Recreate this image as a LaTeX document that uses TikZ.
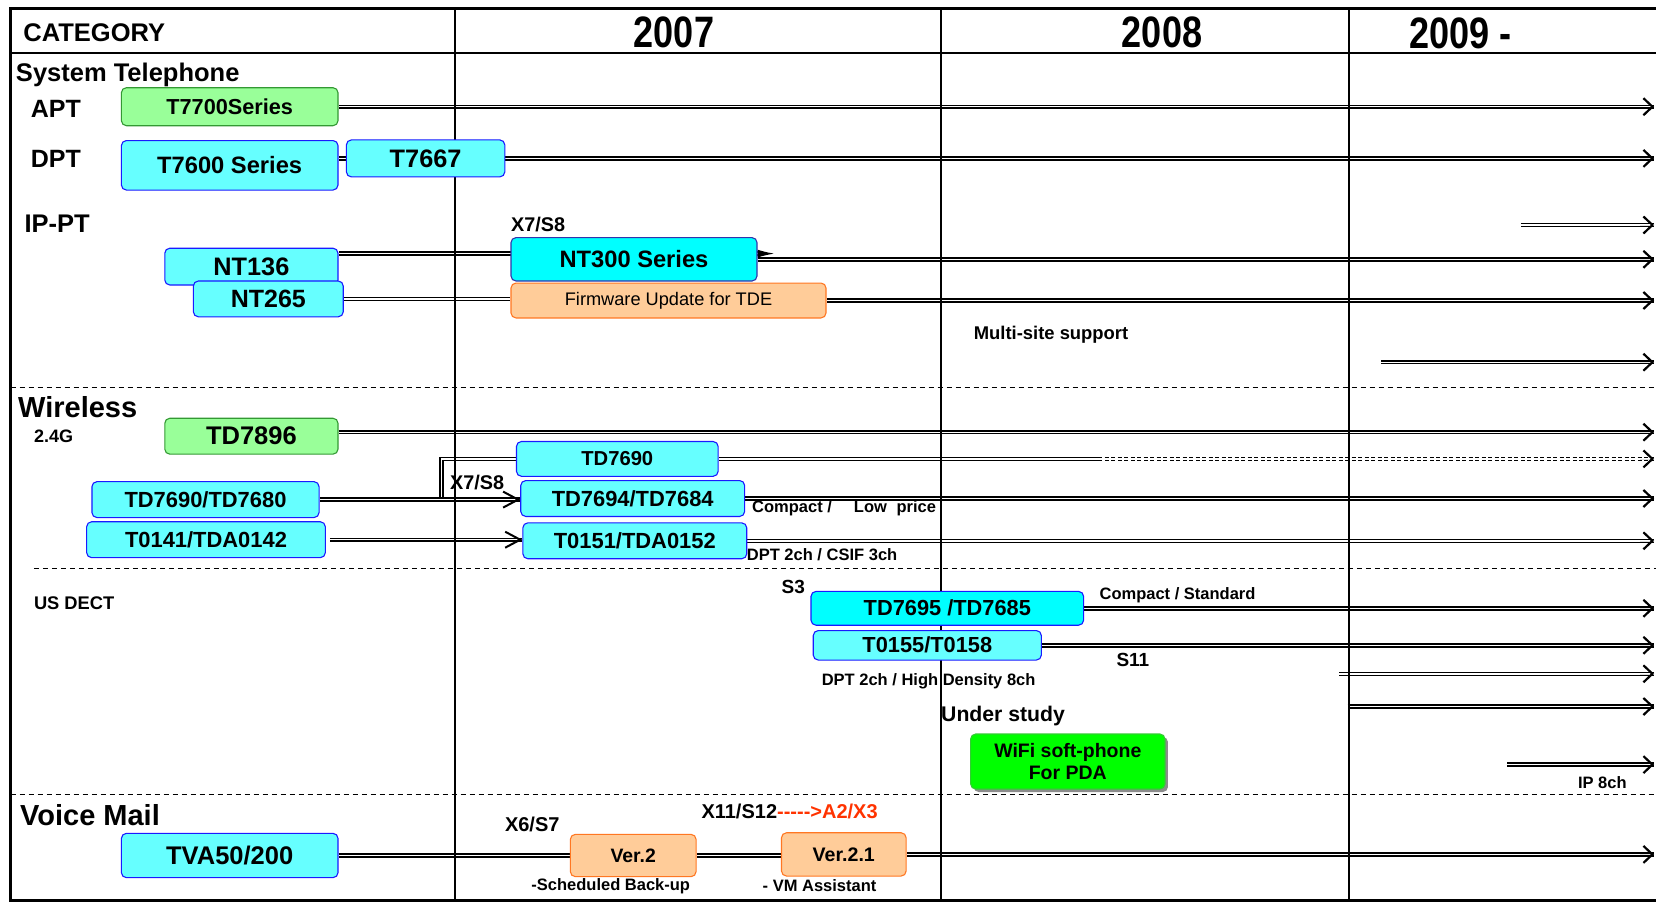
\documentclass[tikz,border=0pt]{standalone}
\usepackage{fontspec}
\setmainfont{Liberation Sans}
\newfontfamily\condfont[FakeStretch=0.82]{Liberation Sans}
\usetikzlibrary{arrows.meta,shadows}
\pgfdeclarelayer{bg}
\pgfsetlayers{bg,main}
\newcommand\fsz[1]{\fontsize{#1}{#1}\selectfont}
\definecolor{cyanL}{HTML}{66FFFF}
\definecolor{cyanF}{HTML}{00FFFF}
\definecolor{blueB}{HTML}{1A1AFF}
\definecolor{navyB}{HTML}{3333AA}
\definecolor{greenF}{HTML}{99FF99}
\definecolor{greenB}{HTML}{339933}
\definecolor{orangeF}{HTML}{FFCC99}
\definecolor{orangeB}{HTML}{FF7722}
\definecolor{limeF}{HTML}{00FF00}
\definecolor{limeB}{HTML}{33CC33}
\definecolor{redT}{HTML}{FF3300}
\tikzset{
  bx/.style={draw, rounded corners=5pt, line width=1.1pt, inner sep=0pt, align=center},
  cbox/.style={bx, fill=cyanL, draw=blueB},
  fbox/.style={bx, fill=cyanF, draw=navyB},
  gbox/.style={bx, fill=greenF, draw=greenB},
  obox/.style={bx, fill=orangeF, draw=orangeB},
  wbox/.style={bx, fill=limeF, draw=limeB, drop shadow={shadow xshift=3pt, shadow yshift=-3pt, fill=black!45, opacity=1}},
  dl/.style={double, line width=1.5pt, double distance=1.4pt},
  tipR/.style={line width=0.01pt, -{Straight Barb[length=9pt, width=17pt, line width=2.2pt]}},
  tipbig/.style={line width=0.01pt, -{Straight Barb[length=15pt, width=16pt, line width=2pt]}},
  lbl/.style={anchor=west, inner sep=0pt, text depth=0pt},
  grid/.style={line width=1.3pt},
  sep/.style={line width=1.2pt, dash pattern=on 5pt off 4pt},
}
% double connector from a point to the right edge, with its open tip
\newcommand\edgearrow[2][]{%
  \draw[dl,#1] (#2) -- (#2 -| R);
  \draw[tipR] ([xshift=-14pt]#2 -| R) -- (#2 -| R);}
\begin{document}
\begin{tikzpicture}[x=1pt, y=-1pt]
\useasboundingbox (0,0) rectangle (1656,902);
\coordinate (R) at (1654,0);

% ---------- header texts ----------
\node[lbl, font=\bfseries\fsz{25.5}] (cat) at (23.2,32.7) {CATEGORY};
\node[inner sep=0pt, font=\condfont\bfseries\fsz{44}] (y2007) at (674,32.7) {2007};
\node[inner sep=0pt, font=\condfont\bfseries\fsz{44}] (y2008) at (1162,32.7) {2008};
\node[lbl, font=\condfont\bfseries\fsz{44}] (y2009) at (1409,32.7) {2009 -};

% ---------- System Telephone ----------
\node[lbl, font=\bfseries\fsz{25.5}] (systel) at (15.8,71.8) {System Telephone};
\node[lbl, font=\bfseries\fsz{25}] (apt) at (30.6,108.8) {APT};
\node[lbl, font=\bfseries\fsz{25}] (dpt) at (30.6,158.4) {DPT};
\node[lbl, font=\bfseries\fsz{25.5}] (ippt) at (24.3,223.9) {IP-PT};

\node[gbox, minimum width=216.6pt, minimum height=38pt, font=\bfseries\fsz{21.7}] (t7700) at (229.7,106.7) {T7700Series};
\node[cbox, minimum width=216.6pt, minimum height=49.5pt, font=\bfseries\fsz{23.7}] (t7600) at (229.7,165.3) {T7600 Series};
\node[cbox, minimum width=158.4pt, minimum height=37pt, font=\bfseries\fsz{25.3}] (t7667) at (425.6,158.4) {T7667};

\node[lbl, font=\bfseries\fsz{19.8}] (x7a) at (511,224) {X7/S8};
\node[cbox, minimum width=173.2pt, minimum height=36.8pt, font=\bfseries\fsz{25.3}] (nt136) at (251.4,266.6) {NT136};
\node[cbox, minimum width=149.9pt, minimum height=35.8pt, font=\bfseries\fsz{25}] (nt265) at (268.3,298.9) {NT265};
\node[fbox, minimum width=246pt, minimum height=43.4pt, font=\bfseries\fsz{23.7}] (nt300) at (634,259.3) {NT300 Series};
\node[obox, minimum width=315pt, minimum height=34.9pt, font=\fsz{18.2}] (fw) at (668.5,300.5) {Firmware Update for TDE};
\node[lbl, font=\bfseries\fsz{18.4}] (multi) at (973.7,332.7) {Multi-site support};

% ---------- Wireless ----------
\node[lbl, font=\bfseries\fsz{29}] (wireless) at (18,406.6) {Wireless};
\node[lbl, font=\bfseries\fsz{18}] (g24) at (33.8,436.2) {2.4G};
\node[gbox, minimum width=173.2pt, minimum height=35.9pt, font=\bfseries\fsz{25.5}] (td7896) at (251.4,436.2) {TD7896};
\node[cbox, minimum width=201.7pt, minimum height=34.8pt, font=\bfseries\fsz{20.2}] (td7690) at (617.3,458.9) {TD7690};
\node[cbox, minimum width=227.1pt, minimum height=35.9pt, font=\bfseries\fsz{21.9}] (td7680) at (205.5,499.6) {TD7690/TD7680};
\node[cbox, minimum width=223.9pt, minimum height=35.9pt, font=\bfseries\fsz{21.9}] (td7694) at (632.7,498.5) {TD7694/TD7684};
\node[cbox, minimum width=238.7pt, minimum height=35.9pt, font=\bfseries\fsz{21.9}] (t0141) at (206,539.7) {T0141/TDA0142};
\node[cbox, minimum width=223.9pt, minimum height=35.9pt, font=\bfseries\fsz{21.9}] (t0151) at (634.8,540.8) {T0151/TDA0152};
\node[lbl, font=\bfseries\fsz{19.8}] (x7b) at (450,482.6) {X7/S8};
\node[lbl, font=\bfseries\fsz{16.5}] (cmp1) at (752,507) {Compact /\hspace{22pt}Low\hspace{9.6pt}price};
\node[lbl, font=\bfseries\fsz{16.5}] (csif) at (746.7,554.5) {DPT 2ch / CSIF 3ch};

\node[lbl, font=\bfseries\fsz{18.3}] (usdect) at (33.8,603) {US DECT};
\node[lbl, font=\bfseries\fsz{19}] (s3) at (781.5,587.2) {S3};
\node[fbox, draw=blueB, minimum width=272.6pt, minimum height=33.8pt, font=\bfseries\fsz{21.8}] (td7695) at (947.3,608.3) {TD7695 /TD7685};
\node[cbox, minimum width=228.1pt, minimum height=29.5pt, font=\bfseries\fsz{21.8}] (t0155) at (927.3,645.3) {T0155/T0158};
\node[lbl, font=\bfseries\fsz{16.5}] (cmp2) at (1099.4,593.5) {Compact / Standard};
\node[lbl, font=\bfseries\fsz{19}] (s11) at (1116.3,660) {S11};
\node[lbl, font=\bfseries\fsz{16.5}] (hd) at (821.6,680) {DPT 2ch / High Density 8ch};
\node[lbl, font=\bfseries\fsz{21.2}] (under) at (941,714) {Under study};
\node[wbox, minimum width=194.3pt, minimum height=55pt, font=\bfseries\fsz{19.5}] (wifi) at (1067.8,761.5) {WiFi soft-phone\\[3pt]For PDA};
\node[lbl, font=\bfseries\fsz{16.5}] (ip8) at (1577.8,782.6) {IP 8ch};

% ---------- Voice Mail ----------
\node[lbl, font=\bfseries\fsz{29}] (vm) at (20,815.3) {Voice Mail};
\node[lbl, font=\bfseries\fsz{20}] (x6) at (504.8,823.8) {X6/S7};
\node[lbl, font=\bfseries\fsz{20}] (x11) at (701.3,811) {X11/S12\textcolor{redT}{{-}{-}{-}{-}{-}>A2/X3}};
\node[cbox, minimum width=216.6pt, minimum height=44.3pt, font=\bfseries\fsz{25.5}] (tva) at (229.7,855.5) {TVA50/200};
\node[obox, minimum width=125.7pt, minimum height=42.3pt, font=\bfseries\fsz{19.4}] (v2) at (633.2,855.5) {Ver.2};
\node[obox, minimum width=124.6pt, minimum height=43.3pt, font=\bfseries\fsz{19.6}] (v21) at (843.8,854.4) {Ver.2.1};
\node[lbl, font=\bfseries\fsz{16.5}] (sched) at (531.2,885) {-Scheduled Back-up};
\node[lbl, font=\bfseries\fsz{16.5}] (vmas) at (762.5,886) {- VM Assistant};

\begin{pgfonlayer}{bg}
\fill[white] (0,0) rectangle (1656,902);
% connectors
\edgearrow{t7700.east}
\draw[dl] (t7600.east |- t7667.west) -- (t7667.west);
\edgearrow{t7667.east}
\coordinate (a1) at (1520.8,225);
\edgearrow{a1}
\draw[dl, -{Latex[length=17pt,width=8pt]}, shorten >=-17pt] ([yshift=13pt]nt136.east) -- ([yshift=13pt]nt136.east -| nt300.east);
\edgearrow{nt300.east}
\draw[dl] (nt265.east) -- (nt265.east -| fw.west);
\edgearrow{fw.east}
\coordinate (a2) at (1381,362.2);
\edgearrow{a2}

\coordinate (td7896r) at ([yshift=4pt]td7896.east);
\edgearrow{td7896r}
\coordinate (sw) at (1098,459.4);
\coordinate (bx) at (441.4,459.4);
\draw[dl] (td7690.east) -- (td7690.east -| sw);
\coordinate (td7690d) at (td7690.east -| sw);
\edgearrow[dash pattern=on 4pt off 2.5pt]{td7690d}
\draw[dl] (td7690.west) -- (td7690.west -| bx) -- (bx |- td7680.east);
\draw[dl] (td7680.east) -- (td7680.east -| td7694.west);
\draw[tipbig] ([xshift=-20pt]td7680.east -| td7694.west) -- (td7680.east -| td7694.west);
\edgearrow{td7694.east}
\draw[dl, shorten <=4pt] (t0141.east) -- (t0141.east -| t0151.west);
\draw[tipbig] ([xshift=-20pt]t0141.east -| t0151.west) -- (t0141.east -| t0151.west);
\edgearrow{t0151.east}

\edgearrow{td7695.east}
\edgearrow{t0155.east}
\coordinate (a3) at (1339,673.8);
\edgearrow{a3}
\coordinate (a4) at (1347.6,706.5);
\edgearrow{a4}
\coordinate (a5) at (1507,764.6);
\edgearrow{a5}

\draw[dl] (tva.east) -- (tva.east -| v2.west);
\draw[dl] (v2.east) -- (v2.east -| v21.west);
\edgearrow{v21.east}

% grid
\draw[grid] (455,8.4) -- (455,900.8);
\draw[grid] (941,8.4) -- (941,900.8);
\draw[grid] (1349,8.4) -- (1349,900.8);
\draw[line width=2pt] (10.6,52.8) -- (1656,52.8);
\draw[sep] (10.6,387.6) -- (1656,387.6);
\draw[sep] (33.8,568.2) -- (1656,568.2);
\draw[sep] (10.6,794.2) -- (1656,794.2);
\draw[line width=3pt] (1656,8.4) -- (10.6,8.4) -- (10.6,900.8) -- (1656,900.8);
\end{pgfonlayer}
\end{tikzpicture}
\end{document}
